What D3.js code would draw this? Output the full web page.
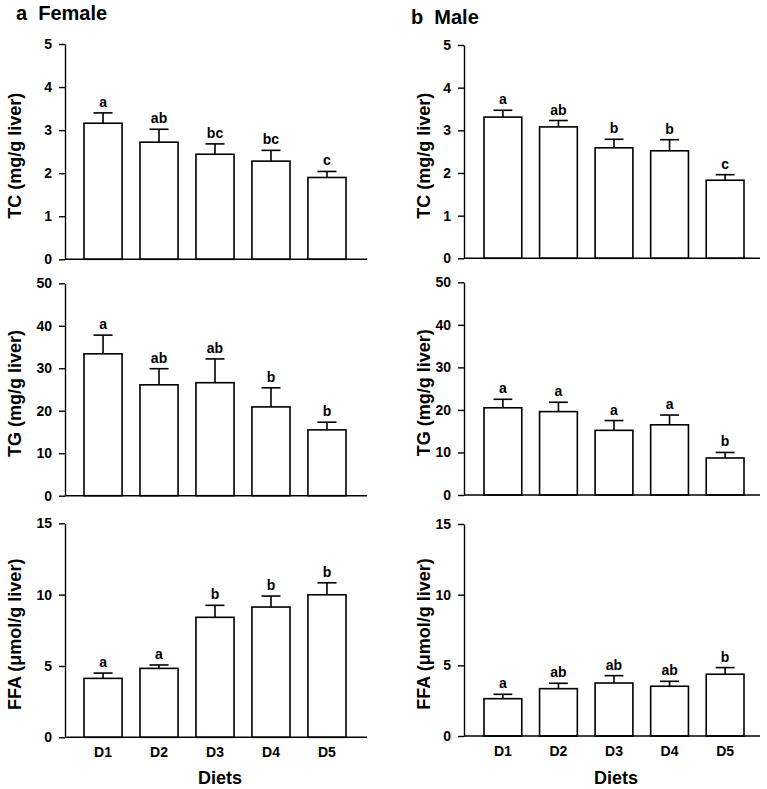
<!DOCTYPE html>
<html>
<head>
<meta charset="utf-8">
<script src="https://cdn.jsdelivr.net/npm/d3@7"></script>
<style>
  html, body { margin: 0; padding: 0; background: #fff; }
  svg { display: block; }
  text { font-family: "Liberation Sans", Arial, Helvetica, sans-serif; font-weight: bold; fill: #000; }
</style>
</head>
<body>
<svg id="chart" width="767" height="789"></svg>
<script>
// ---- Data ----
const categories = ["D1", "D2", "D3", "D4", "D5"];

const femaleTC = [3.16, 2.72, 2.44, 2.28, 1.90];
const femaleTCErr = [0.24, 0.30, 0.24, 0.25, 0.14];
const femaleTCLetters = ["a", "ab", "bc", "bc", "c"];

const maleTC = [3.31, 3.08, 2.59, 2.52, 1.83];
const maleTCErr = [0.16, 0.15, 0.20, 0.26, 0.13];
const maleTCLetters = ["a", "ab", "b", "b", "c"];

const femaleTG = [33.4, 26.1, 26.6, 20.9, 15.5];
const femaleTGErr = [4.4, 3.8, 5.6, 4.5, 1.8];
const femaleTGLetters = ["a", "ab", "ab", "b", "b"];

const maleTG = [20.5, 19.6, 15.2, 16.5, 8.7];
const maleTGErr = [2.0, 2.2, 2.3, 2.3, 1.3];
const maleTGLetters = ["a", "a", "a", "a", "b"];

const femaleFFA = [4.13, 4.83, 8.41, 9.13, 9.99];
const femaleFFAErr = [0.37, 0.24, 0.84, 0.77, 0.84];
const femaleFFALetters = ["a", "a", "b", "b", "b"];

const maleFFA = [2.64, 3.35, 3.75, 3.52, 4.37];
const maleFFAErr = [0.31, 0.38, 0.52, 0.35, 0.47];
const maleFFALetters = ["a", "ab", "ab", "ab", "b"];

const tcTicks = [0, 1, 2, 3, 4, 5];
const tgTicks = [0, 10, 20, 30, 40, 50];
const ffaTicks = [0, 5, 10, 15];

const panelTitles = ["a  Female", "b  Male"];
const yLabels = ["TC (mg/g liver)", "TG (mg/g liver)", "FFA (\u03bcmol/g liver)"];
const xTitle = "Diets";

// ---- Layout ----
const svg = d3.select("#chart");

const cols = [
  { axisX0: 65, axisX1: 367, band: [84, 346], labelX: 21, titleX: 16, titleY: 20 },
  { axisX0: 464, axisX1: 760, band: [484, 744], labelX: 430, titleX: 411, titleY: 24 }
];
const rows = [
  { domain: [0, 5], ticks: tcTicks, y: [[44, 259.3], [45, 258.3]] },
  { domain: [0, 50], ticks: tgTicks, y: [[283.3, 495.7], [282.3, 495]] },
  { domain: [0, 15], ticks: ffaTicks, y: [[523.3, 737.3], [524, 736]] }
];

const panels = [
  [ { v: femaleTC, e: femaleTCErr, l: femaleTCLetters }, { v: maleTC, e: maleTCErr, l: maleTCLetters } ],
  [ { v: femaleTG, e: femaleTGErr, l: femaleTGLetters }, { v: maleTG, e: maleTGErr, l: maleTGLetters } ],
  [ { v: femaleFFA, e: femaleFFAErr, l: femaleFFALetters }, { v: maleFFA, e: maleFFAErr, l: maleFFALetters } ]
];

cols.forEach((c, ci) => {
  svg.append("text")
    .attr("x", c.titleX).attr("y", c.titleY)
    .style("font-size", "20px")
    .attr("xml:space", "preserve")
    .text(panelTitles[ci]);
});

rows.forEach((r, ri) => {
  cols.forEach((c, ci) => {
    const [top, bottom] = r.y[ci];
    const x = d3.scaleBand().domain(categories).range(c.band).paddingInner(0.32).paddingOuter(0);
    const y = d3.scaleLinear().domain(r.domain).range([bottom, top]);
    const g = svg.append("g");
    const p = panels[ri][ci];
    const data = categories.map((k, i) => ({ k, v: p.v[i], e: p.e[i], l: p.l[i] }));

    // y axis
    const yAxis = g.append("g")
      .attr("transform", `translate(${c.axisX0},0)`)
      .call(d3.axisLeft(y).tickValues(r.ticks).tickSize(6).tickSizeOuter(0).tickPadding(7).tickFormat(d3.format("d")));
    yAxis.select(".domain").attr("stroke", "#000").attr("stroke-width", 1.4);
    yAxis.selectAll(".tick line").attr("stroke", "#000").attr("stroke-width", 1.4);
    yAxis.selectAll(".tick text")
      .style("font-size", "14px")
      .style("font-family", "'Liberation Sans', Arial, sans-serif")
      .style("font-weight", "bold")
      .attr("fill", "#000");

    // bars
    g.selectAll("rect.bar").data(data).join("rect")
      .attr("class", "bar")
      .attr("x", d => x(d.k))
      .attr("width", x.bandwidth())
      .attr("y", d => y(d.v))
      .attr("height", d => y(0) - y(d.v))
      .attr("fill", "#fff")
      .attr("stroke", "#000")
      .attr("stroke-width", 1.6);

    // error bars (upper)
    const cap = x.bandwidth() / 2;
    g.selectAll("line.stem").data(data).join("line")
      .attr("class", "stem")
      .attr("x1", d => x(d.k) + x.bandwidth() / 2)
      .attr("x2", d => x(d.k) + x.bandwidth() / 2)
      .attr("y1", d => y(d.v))
      .attr("y2", d => y(d.v + d.e))
      .attr("stroke", "#000").attr("stroke-width", 1.6);
    g.selectAll("line.cap").data(data).join("line")
      .attr("class", "cap")
      .attr("x1", d => x(d.k) + x.bandwidth() / 2 - cap / 2)
      .attr("x2", d => x(d.k) + x.bandwidth() / 2 + cap / 2)
      .attr("y1", d => y(d.v + d.e))
      .attr("y2", d => y(d.v + d.e))
      .attr("stroke", "#000").attr("stroke-width", 1.6);

    // letters
    g.selectAll("text.sig").data(data).join("text")
      .attr("class", "sig")
      .attr("x", d => x(d.k) + x.bandwidth() / 2)
      .attr("y", d => y(d.v + d.e) - 6)
      .attr("text-anchor", "middle")
      .style("font-size", "14px")
      .text(d => d.l);

    // x axis baseline
    g.append("line")
      .attr("x1", c.axisX0).attr("x2", c.axisX1)
      .attr("y1", y(0)).attr("y2", y(0))
      .attr("stroke", "#000").attr("stroke-width", 1.4);

    // y label
    svg.append("text")
      .attr("transform", `translate(${c.labelX},${(top + bottom) / 2 + 4}) rotate(-90)`)
      .attr("text-anchor", "middle")
      .style("font-size", "18px")
      .text(yLabels[ri]);

    if (ri === rows.length - 1) {
      const xAxis = g.append("g")
        .attr("transform", `translate(0,${y(0)})`)
        .call(d3.axisBottom(x).tickSize(0).tickPadding(10));
      xAxis.select(".domain").remove();
      xAxis.selectAll(".tick text")
        .style("font-size", "14px")
        .style("font-family", "'Liberation Sans', Arial, sans-serif")
        .style("font-weight", "bold")
        .attr("fill", "#000");
      svg.append("text")
        .attr("x", (c.axisX0 + c.axisX1) / 2 + 4)
        .attr("y", 784)
        .attr("text-anchor", "middle")
        .style("font-size", "18px")
        .text(xTitle);
    }
  });
});
</script>
</body>
</html>
